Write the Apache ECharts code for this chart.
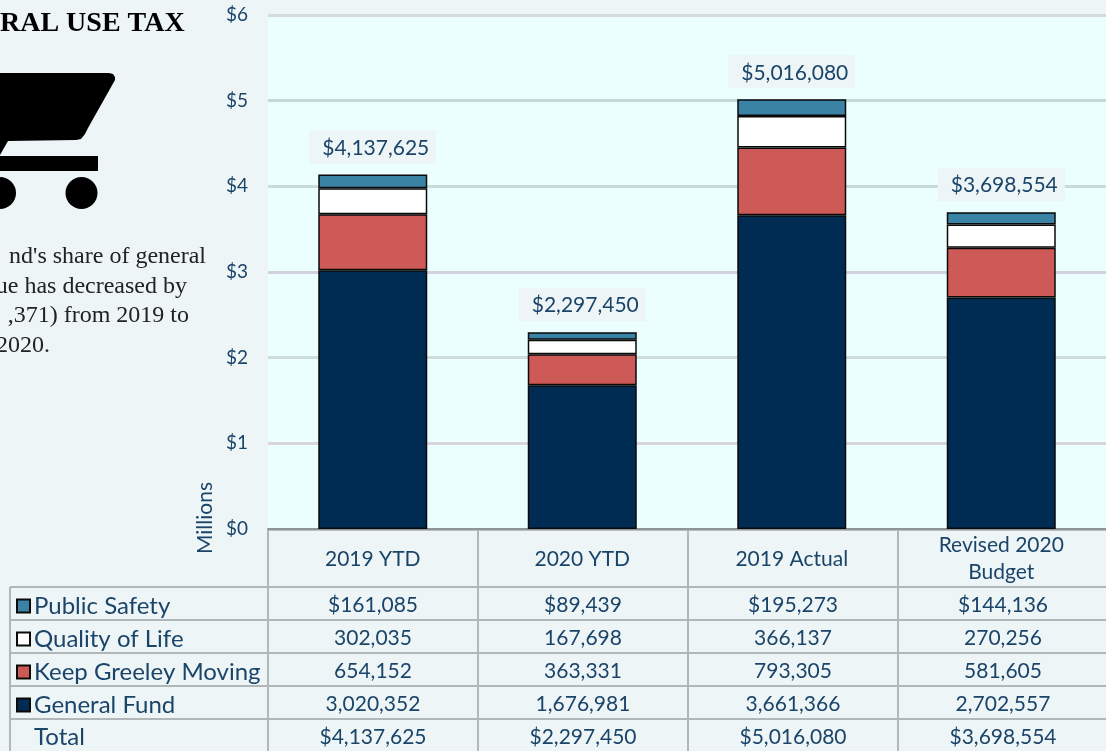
<!DOCTYPE html>
<html><head><meta charset="utf-8">
<script src="https://cdn.jsdelivr.net/npm/echarts@6/dist/echarts.min.js"></script>
<style>html,body{margin:0;padding:0;background:#edf5f7;overflow:hidden}#c{width:1106px;height:751px}</style>
</head><body><div id="c"></div>
<script>
const categories = ['2019 YTD','2020 YTD','2019 Actual','Revised 2020\nBudget'];
const generalFund = [3020352,1676981,3661366,2702557];
const keepGreeleyMoving = [654152,363331,793305,581605];
const qualityOfLife = [302035,167698,366137,270256];
const publicSafety = [161085,89439,195273,144136];
const totals = [4137625,2297450,5016080,3698554];
const yTicks = ['$0','$1','$2','$3','$4','$5','$6'];
const titleText = 'RAL USE TAX';
const noteLines = ["nd's share of general","ue has decreased by",",371) from 2019 to","2020."];
const noteRightEdges = [206,187,189,50];
const INK = '#1b4469', SANS = 'Lato, "Open Sans", sans-serif', SERIF = '"Liberation Serif", serif';
const GL = 268, CW = 210, GT = 15, GH = 514;
const rowY = [587,620,653,686,719,752];
const fmt = n => n.toLocaleString('en-US');
const rows = [
  {name:'Public Safety', vals:publicSafety, dollar:true},
  {name:'Quality of Life', vals:qualityOfLife},
  {name:'Keep Greeley Moving', vals:keepGreeleyMoving},
  {name:'General Fund', vals:generalFund},
  {name:'Total', vals:totals, dollar:true}
];
const lineStyle = {stroke:'#afb7b9', lineWidth:2};
const gfx = [];
const hline = (x1,x2,y)=>gfx.push({type:'line',silent:true,shape:{x1,y1:y,x2,y2:y},style:lineStyle});
const vline = (x,y1,y2)=>gfx.push({type:'line',silent:true,shape:{x1:x,y1,x2:x,y2},style:lineStyle});
rowY.slice(0,5).forEach(y=>hline(10,1106,y));
vline(10,587,751);
for(let i=0;i<4;i++) vline(GL+i*CW,529,751);
rows.forEach((r,ri)=>{
  r.vals.forEach((v,ci)=>gfx.push({type:'text',silent:true,style:{
    x:GL+CW*(ci+.5),y:(rowY[ri]+rowY[ri+1])/2+2,text:(r.dollar?'$':'')+fmt(v),
    fill:INK,font:'21px '+SANS,align:'center',verticalAlign:'middle'}}));
});
gfx.push({type:'text',silent:true,style:{x:34,y:737,text:'Total',fill:INK,font:'24px '+SANS,align:'left',verticalAlign:'middle'}});
gfx.push({type:'text',silent:true,rotation:Math.PI/2,x:205,y:518,style:{x:0,y:0,text:'Millions',fill:INK,font:'21px '+SANS,align:'center',verticalAlign:'middle'}});
gfx.push({type:'text',silent:true,style:{x:0,y:24,text:titleText,fill:'#000',font:'bold 28px '+SERIF,align:'left',verticalAlign:'middle'}});
noteLines.forEach((t,i)=>gfx.push({type:'text',silent:true,style:{x:noteRightEdges[i],y:257+i*29.6,text:t,fill:'#222',font:'24px '+SERIF,align:'right',verticalAlign:'middle'}}));
// cart icon
gfx.push({type:'polygon',silent:true,shape:{points:[[0,73],[109,73],[113,74],[115,77],[115,80],[88,128],[85,134],[81,139],[76,140],[8,141],[0,155]]},style:{fill:'#000'}});
gfx.push({type:'rect',silent:true,shape:{x:0,y:156,width:98,height:15},style:{fill:'#000'}});
gfx.push({type:'circle',silent:true,shape:{cx:81.5,cy:193,r:16},style:{fill:'#000'}});
gfx.push({type:'circle',silent:true,shape:{cx:0,cy:193,r:16},style:{fill:'#000'}});

const bar = (name,data,color,extra)=>Object.assign({name,type:'bar',stack:'t',data,barWidth:109,
  itemStyle:{color,borderColor:'#0a0a0a',borderWidth:1.5},emphasis:{disabled:true}},extra||{});
const option = {
  animation:false,
  backgroundColor:'#edf5f7',
  grid:{left:GL,top:GT,width:CW*4,height:GH,show:true,backgroundColor:'#ebffff',borderWidth:0},
  legend:{orient:'vertical',left:16,top:592,itemWidth:13,itemHeight:13,itemGap:5,padding:[0,0,0,0],icon:'rect',
    data:['Public Safety','Quality of Life','Keep Greeley Moving','General Fund'],
    selectedMode:false,
    textStyle:{color:INK,fontFamily:SANS,fontSize:24,padding:[2,0,0,-1],lineHeight:26}},
  xAxis:{type:'category',data:categories,
    axisLine:{show:true,lineStyle:{color:'#8f9698',width:2}},axisTick:{show:false},
    axisLabel:{color:INK,fontFamily:SANS,fontSize:21,lineHeight:27,margin:30,interval:0,verticalAlign:'middle'}},
  yAxis:{type:'value',min:0,max:6000000,interval:1000000,
    axisLine:{show:false},axisTick:{show:false},
    axisLabel:{color:INK,fontFamily:SANS,fontSize:19,margin:20,padding:[4,0,0,0],formatter:(v)=>yTicks[Math.round(v/1e6)]},
    splitLine:{show:true,lineStyle:{width:3,color:['#b7bfc1','#d8d6dc','#cfdcdc','#d3d0e0','#c9dcdc','#c5d8d8','#d5dada']}}},
  series:[
    bar('General Fund',generalFund,'#002b52'),
    bar('Keep Greeley Moving',keepGreeleyMoving,'#ce5a57'),
    bar('Quality of Life',qualityOfLife,'#ffffff'),
    bar('Public Safety',publicSafety,'#3a83a5',{
      label:{show:true,position:'top',distance:11,color:INK,fontFamily:SANS,fontSize:21,
        backgroundColor:'#edf5f7',padding:[7,7,5,13],
        formatter:p=>'$'+fmt(totals[p.dataIndex])}})
  ],
  graphic:gfx
};
echarts.init(document.getElementById('c'),null,{renderer:'canvas'}).setOption(option);
</script></body></html>
